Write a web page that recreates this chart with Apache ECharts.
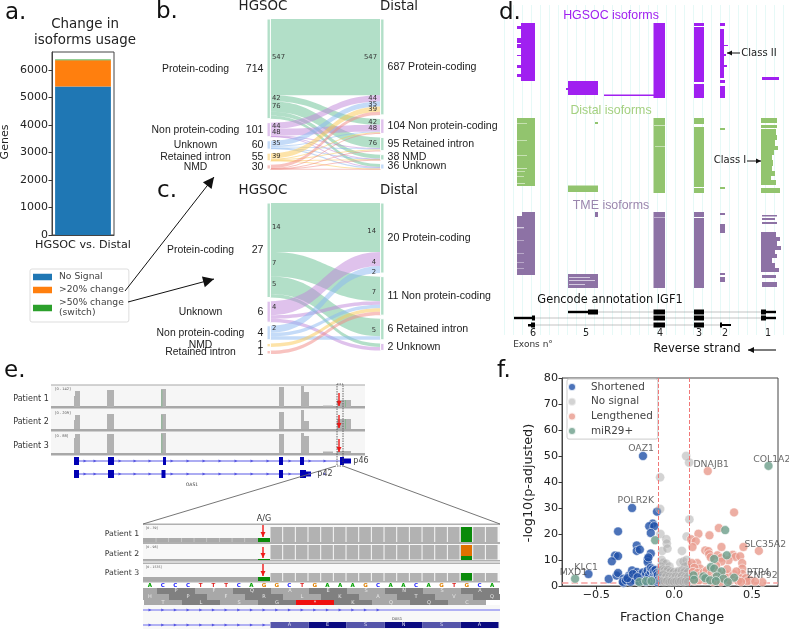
<!DOCTYPE html>
<html><head><meta charset="utf-8">
<style>html,body{margin:0;padding:0;background:#fff}#c{width:789px;height:629px}</style>
<script src="https://cdn.jsdelivr.net/npm/echarts@6/dist/echarts.min.js"></script>
</head><body><div id="c"></div>
<script>
// ---------- panel a values
const usageCategories = ['HGSOC vs. Distal'];
const noSignal = [5400];
const change20 = [950];
const change50 = [30];

// ---------- panel b sankey values
const leftB = ['Protein-coding','Non protein-coding','Unknown','Retained intron','NMD'];
const leftBTotals = [714,101,60,55,30];
const rightB = ['Protein-coding','Non protein-coding','Retained intron','NMD','Unknown'];
const rightBTotals = [687,104,95,38,36];
const flowsB = [
 [547,42,76,28,21],
 [44,48,3,3,3],
 [35,6,8,2,9],
 [39,5,6,3,2],
 [22,3,2,2,1]
];
// ---------- panel c sankey values
const leftC = ['Protein-coding','Unknown','Non protein-coding','NMD','Retained intron'];
const leftCTotals = [27,6,4,1,1];
const rightC = ['Protein-coding','Non protein-coding','Retained intron','Unknown'];
const rightCTotals = [20,11,6,2];
const flowsC = [
 [14,7,5,1],
 [4,1,0,1],
 [2,1,1,0],
 [0,1,0,0],
 [0,1,0,0]
];
const ribbonTextB = [['547',272,57],['42',272,98],['76',272,106],['44',272,126],['48',272,132],['35',272,143],['39',272,156]];
const ribbonTextBR = [['547',377,57],['44',377,98],['35',377,104],['39',377,109],['42',377,122],['48',377,128],['76',377,143]];
const ribbonTextC = [['14',272,227],['7',272,263],['5',272,284],['4',272,307],['2',272,328]];
const ribbonTextCR = [['14',376,231],['4',376,262],['2',376,272],['7',376,292],['5',376,330]];

// ---------- panel d isoform blocks: [x0,x1,y0,y1]
const hgsocBlocks = [
 [521,535,23,81],[517,521,26,29],[517,521,38,43],[517,521,44,48],[517,521,55,56],[517,521,65,68],[517,521,74,77],
 [568,598,81,95],[566,568,88,90],[604,654,94.6,96],[653.5,665,23,98],
 [694,704,23,26],[694,704,27,82],[694,704,84,98],
 [720,725,23,26],[720,724,29,78],[724,728,45,46],[724,726,54,56],[724,727,65,67],[720,725,80,83],[720,725,86,98],[762,779,77,80]
];
const distalBlocks = [
 [517,535,118,186],[595,598,122,124],[568,598,185.5,192],[653.5,665,118,193],
 [694,704,118,124],[694,704,127,187],[694,704,188,193],[720,725,128,130],[720,725,187,189],
 [761,777,118,123],[761,777,125,128],[761,776,129,135],[761,777,135,140],[761,775,140,146],[761,778,146,150],[761,774,150,155],
 [761,772,155,160],[761,773,160,166],[761,772,166,171],[761,775,171,176],[761,771,176,180],[761,776,180,185],[761,780,188,193]
];
const distalNotches = [[517,527,155,155.6],[517,527,168,168.7],[517,525,171,171.6],[517,524,176,176.6],[517,525,183,183.7],[517,527,140,140.6],[517,527,123,123.6],[654,665,125,125.7],[655,665,146,146.6]];
const tmeBlocks = [
 [522,535,212,216],[517,535,216,275],[595,598,212,217],[568,598,274,288],[653.5,665,212,288],
 [694,704,212,217],[694,704,218,288],
 [720,725,213,215],[720,725,224,233],[720,725,273,275],[720,725,277,282],
 [762,777,215,216.5],[762,775,218,220],[762,777,222,224],
 [761,776,232,237],[761,780,237,241],[761,777,241,246],[761,781,246,250],[761,775,250,254],[761,777,254,258],[761,772,258,263],[761,775,263,268],[761,779,268,272],
 [762,776,275,278],[762,777,282,287]
];
const tmeNotches = [[517,524,227,228.3],[517,524,240,240.6],[517,524,253,253.6],[517,524,262,262.6],[517,524,268,268.6],[569,590,277,278],[569,595,280,281],[569,585,284,285],[654,665,217,217.7]];
const geneThickLines = [[568,588,310.8,313.2],[514,532,316.8,319.2],[528,535,324,326.5],[722,731,324,326],[766,776,310.8,313.2],[766,776,316.8,319.2]];
const geneBoxes = [
 [588,598,309.5,314.5],[653.5,665,309.5,314.5],[694,704,309.5,314.5],[761,766,309.5,314.5],
 [532,535,315.5,320.5],[653.5,665,315.5,320.5],[694,704,315.5,320.5],[761,766,315.5,320.5],
 [531,535,322.5,327.5],[653.5,665,322.5,327.5],[694,704,322.5,327.5],[720,722,322.5,327.5]
];
const geneLines = [[598,761,311.8,312.3],[535,761,317.8,318.3],[535,720,324.8,325.3]];

// ---------- panel e, top tracks
const trackBg = [[51,365,385,407],[51,365,408,430],[51,365,431,453]];
const trackSep = [[51,365,384.5,385.5],[51,365,406,408.5],[51,365,429,431.5],[51,365,453,455.5]];
const coverage = [
 [74,75,396,407],[75,80,391,407],[107,114,390,407],[161,166,389,407],[279,284,387,407],[301,304,386,407],[304,309,392,407],[323,333,405.5,407],[337,351,400,407],
 [74,75,420,429],[75,80,415,429],[107,114,414,429],[161,166,414,429],[279,284,412,429],[301,304,410,429],[304,309,421,429],[337,351,419,429],
 [74,75,438,453],[75,80,434,453],[107,114,434,453],[161,166,433,453],[279,284,434,453],[301,304,433,453],[304,309,436,453],[323,333,451.5,453],[337,351,451,453]
];
const coverageGreen = [[161.5,162.3,390,407],[161.5,162.3,415,429],[161.5,162.3,434,453],[345,345.8,400,407],[345,345.8,419,429]];
const redArrowsTop = [[339,393,339,406],[339,415,339,428],[339,439,339,452]];
const geneBlue = [[74,79,457,465],[108,114,457,465],[163,166,457,465],[279,283,457,465],[300,304,457,465],[340,344,457,465],[344,351,458.5,463.5],
 [74,79,470,478],[108,114,470,478],[161.5,165.5,470,478],[279,283,470,478],[300,306,470,478],[306,311,471.5,476.5]];
const geneBlueLines = [[74,344,460.6,461.4],[74,306,473.6,474.4]];
const chevronX = [85,95,120,135,150,172,188,204,220,236,252,268,290,310,325];
const chevronY = [461,474];

// ---------- panel e, zoomed region
const zoomBg = [[143,500,525,542],[143,500,544,560],[143,500,564,581],[143,500,605,629]];
const zoomSep = [[143,500,523.5,525],[143,500,542,544],[143,500,560,561.5],[143,500,562.5,564],[143,500,581,582.5]];
const lowCells = [[143,258,538,542],[143,258,577,581],[143,258,559,560]];
const bases = ['A','C','C','C','T','T','T','C','A','G','G','C','T','G','A','A','A','G','C','A','A','C','A','G','T','G','C','A'];
const codonsTop = ['','P','F','Q','A','E','S','N','S','A'];
const codonsMid = ['H','P','F','R','L','K','A','T','V','Q'];
const codonsLow = ['T','L','S','G','*','K','Q','Q','C'];
const exonAminoAcids = ['A','E','S','N','S','A'];
const baseColors = {A:'#00a000',C:'#2020ff',G:'#e08000',T:'#e02020'};

// ---------- panel f values: [fraction change, -log10 p]
const shortened = [[-0.2,50],[-0.27,30],[-0.11,28.6],[-0.137,24],[-0.16,23],[-0.128,23],[-0.36,21],[-0.15,20.4],[-0.24,15.6],[-0.24,13.5],[-0.22,14],[-0.15,12.5],
 [-0.38,11.7],[-0.36,11.5],[-0.4,9.5],[-0.17,10.3],[-0.17,9.2],[-0.165,11],[-0.55,4.6],[-0.42,2.7],[-0.37,4],[-0.36,5],[-0.325,2.8],[-0.325,1.2],
 [-0.29,4],[-0.27,6],[-0.26,3.2],[-0.25,2.2],[-0.24,5.4],[-0.23,1.8],[-0.22,4.4],[-0.21,3],[-0.2,2],[-0.2,5.2],[-0.19,3.6],[-0.18,1.6],[-0.18,4.8],[-0.17,3],[-0.17,6],
 [-0.16,2.2],[-0.16,4.2],[-0.15,5.6],[-0.15,7],[-0.14,3],[-0.14,6.4],[-0.14,1.8],[-0.13,4.6],[-0.13,5.8],[-0.12,2.4],[-0.12,3.8],[-0.12,6.2],[-0.11,1.6],[-0.11,3.2],[-0.11,5],
 [-0.105,4.2],[-0.105,2.2],[-0.33,1.6],[-0.31,2.2],[-0.28,1.6],[-0.3,3],[-0.265,4.6],[-0.235,3.4]];
const noSignalPts = [[0.077,50],[0.096,47.5],[-0.09,41.8],[-0.09,29.6],[0.098,25.6],[-0.088,20],[0.08,19],[-0.05,18],[-0.047,16.3],[-0.077,13.5],[-0.043,14.4],[0.05,13.5],
 [-0.08,10],[-0.07,9],[-0.05,8.6],[-0.03,7.5],[0.04,9],[0.06,9.4],[0.08,10],[0.09,8],[0.07,7.5],[-0.085,7.5],[-0.09,6],[-0.075,6.4],[-0.06,6],[-0.05,5.4],[-0.04,6.2],[-0.03,5],[-0.02,5.6],
 [-0.01,4.8],[0,5.4],[0.01,4.6],[0.02,5.2],[0.03,5.8],[0.04,4.6],[0.05,6],[0.06,5],[0.07,5.6],[0.08,4.8],[0.09,5.4],[-0.09,4],[-0.08,3.2],[-0.07,4.4],[-0.06,3],[-0.05,3.8],[-0.04,2.6],
 [-0.03,3.6],[-0.02,2.4],[-0.01,3.4],[0,2.6],[0.01,3.6],[0.02,2.4],[0.03,3.4],[0.04,2.8],[0.05,3.8],[0.06,2.6],[0.07,3.4],[0.08,2.8],[0.09,3.6],[-0.09,2],[-0.075,1.7],[-0.06,1.6],[-0.045,1.9],
 [-0.03,1.5],[-0.015,1.8],[0,1.5],[0.015,1.8],[0.03,1.6],[0.045,1.9],[0.06,1.5],[0.075,1.8],[0.09,1.6]];
const lengthened = [[0.216,44.2],[0.385,28.3],[0.287,22.3],[0.156,20.1],[0.227,19.5],[0.109,18],[0.139,17.2],[0.118,15],[0.304,15],[0.544,13.5],[0.445,15],[0.2,13.7],[0.22,13.4],[0.225,12.2],
 [0.278,11.8],[0.235,11],[0.377,12],[0.394,11.2],[0.424,11.4],[0.304,10.9],[0.349,9.9],[0.304,9.4],[0.148,8.8],[0.113,8.8],[0.437,8.8],[0.437,6.7],[0.437,4.7],[0.424,3],[0.488,2.2],[0.567,1.5],
 [0.46,3],[0.167,6.7],[0.13,7],[0.12,5.4],[0.15,5],[0.17,4],[0.19,5.2],[0.21,6],[0.22,3.2],[0.24,4.8],[0.26,3.2],[0.28,5.4],[0.29,2.4],[0.31,3.6],[0.33,4.6],[0.35,3.4],[0.36,2],[0.38,4.6],
 [0.4,5.6],[0.41,2],[0.47,1.8],[0.43,1.6],[0.52,1.7],[0.2,2.2],[0.25,1.6],[0.3,1.6],[0.13,2],[0.16,2.2],[0.34,6.5],[0.27,7.8]];
const mir29 = [[0.606,46.2],[0.328,21.5],[-0.122,17.6],[0.338,11.8],[0.257,10.4],[0.236,7.3],[0.257,6.7],[0.304,5.6],[0.274,3.7],[0.317,2.8],[0.385,3.2],[0.345,1.5],[-0.636,2.8],
 [0.124,4.1],[0.128,2.4],[0.188,3.7],[0.2,3],[0.231,2.2],[0.268,1.9],[-0.223,1.5],[-0.18,1.9],[-0.146,1.9]];
const geneLabels = [['OAZ1',-0.212,52.7],['POLR2K',-0.246,32.7],['DNAJB1',0.238,46.8],['COL1A2',0.627,48.7],['SLC35A2',0.585,15.9],['KLC1',-0.565,7],['MXD1',-0.647,5.2],['PTP4',0.54,5],['ZNF92',0.567,4.1]];

// ---------- helpers
const SANS='"DejaVu Sans"', ARIAL='"Liberation Sans"';
const flowStrong = ['#66bf91','#bf85d9','#89b7f1','#fbc751','#f18781'];
const flowPale = ['#b2dfc8','#dfc2ec','#c4dbf8','#fde3a8','#f8c3c0'];

function sankey(top,height,gap,lNames,lTotals,rNames,rTotals,flows,rightPale,center){
  const nodes=[];
  lNames.forEach((n,i)=>nodes.push({name:'L'+n,depth:0,itemStyle:{color:flowPale[i]},
    label:{position:'left',distance:3,formatter:`{n|${n}}{v|${lTotals[i]}}`,
      rich:{n:{width:center,align:'center',fontSize:10.4,fontFamily:ARIAL,color:'#222'},v:{width:rNames.length===5?22:16,align:'right',fontSize:10.6,fontFamily:ARIAL,color:'#222'}}}}));
  rNames.forEach((n,i)=>nodes.push({name:'R'+n,depth:1,itemStyle:{color:rightPale[i]},
    label:{position:'right',distance:3,formatter:`${rTotals[i]} ${n}`,fontSize:10.6,fontFamily:ARIAL,color:'#222'}}));
  const links=[];
  flows.forEach((row,i)=>row.forEach((v,j)=>{ if(v>0) links.push({source:'L'+lNames[i],target:'R'+rNames[j],value:v,
     lineStyle:{color:flowStrong[i],opacity:0.5}}); }));
  return {type:'sankey',left:267,width:117,top,height,nodeWidth:3.4,nodeGap:gap,layoutIterations:0,draggable:false,silent:true,
    nodeAlign:'justify',data:nodes,links,label:{show:true},itemStyle:{borderColor:'#fff',borderWidth:1},emphasis:{disabled:true},animation:false,z:2};
}

function rects(list,color,z){
  return {type:'custom',xAxisIndex:3,yAxisIndex:3,coordinateSystem:'cartesian2d',silent:true,animation:false,clip:false,z:z||3,
    data:list,
    renderItem(p,api){
      const a=api.coord([api.value(0),api.value(2)]),b=api.coord([api.value(1),api.value(3)]);
      return {type:'rect',shape:{x:a[0],y:a[1],width:b[0]-a[0],height:b[1]-a[1]},style:{fill:color}};
    }};
}
function arrows(list,color,w,head,z,noHead){
  return {type:'custom',xAxisIndex:3,yAxisIndex:3,coordinateSystem:'cartesian2d',silent:true,animation:false,clip:false,z:z||6,
    data:list,
    renderItem(p,api){
      const a=api.coord([api.value(0),api.value(1)]),b=api.coord([api.value(2),api.value(3)]);
      const t=Math.atan2(b[1]-a[1],b[0]-a[0]);
      const children=[{type:'line',shape:{x1:a[0],y1:a[1],x2:b[0],y2:b[1]},style:{stroke:color,lineWidth:w}}];
      if(!noHead){
        const h=head,hw=head*0.5;
        const bx=b[0]-h*Math.cos(t),by=b[1]-h*Math.sin(t);
        children.push({type:'polygon',shape:{points:[[b[0],b[1]],[bx-hw*Math.sin(t),by+hw*Math.cos(t)],[bx+hw*Math.sin(t),by-hw*Math.cos(t)]]},style:{fill:color}});
      }
      return {type:'group',children};
    }};
}
function txt(t,x,y,size,color,align,font,extra){
  return Object.assign({type:'text',x,y,z:20,silent:true,style:{text:t,fontSize:size,fill:color||'#222',align:align||'center',verticalAlign:'middle',fontFamily:font||SANS}},extra||{});
}

// zoomed panel pieces derived from the named lists
const cellW=12.67, zoomStart=270.5;
const zoomCells=[]; for(let i=0;i<18;i++){const x0=zoomStart+i*cellW,x1=Math.min(x0+cellW-1,500);
  zoomCells.push([x0,x1,527,542],[x0,x1,545,559.5],[x0,x1,573,581]);}
const lowTicks=[]; for(let i=1;i<9;i++) lowTicks.push([143+i*12.67,143+i*12.67+0.7,538,542]);
const codonRects={dark:[],mid:[],red:[]}; const gfx=[];
function codonRow(list,firstCenter,y0,y1,startDark){
  list.forEach((c,i)=>{const cx=firstCenter+i*38,x0=Math.max(143,cx-19),x1=Math.min(500,cx+19);
    const key=c==='*'?'red':((i%2===0)===startDark?'dark':'mid');
    codonRects[key].push([x0,x1,y0,y1]);
    if(c) gfx.push(txt(c,cx,(y0+y1)/2,5,'#e8e8e8'));});
}
codonRow(codonsTop,138,588,594,false);
codonRow(codonsMid,150,594,600,false);
codonRow(codonsLow,163,600,605,false);
bases.forEach((b,i)=>gfx.push(txt(b,150+i*12.67,586,5.5,baseColors[b],'center',SANS,{style:{text:b,fontSize:5.5,fontWeight:'bold',fill:baseColors[b],align:'center',verticalAlign:'middle',fontFamily:SANS}})));
const aaDark=[],aaMid=[];
exonAminoAcids.forEach((a,i)=>{const x0=270.5+i*38,x1=Math.min(500,x0+38);(i%2?aaDark:aaMid).push([x0,x1,622,628]);gfx.push(txt(a,(x0+x1)/2,625,5,'#dde'));});

const chevronPts=[];chevronY.forEach(y=>chevronX.forEach(x=>chevronPts.push([x,y])));
const chevronPtsB=[];[610,625].forEach(y=>{for(let i=0;i<19;i++){if(y===625&&150+i*12.67>265)break;chevronPtsB.push([150+i*12.67,y]);}});

const xTickVals=[-0.5,0,0.5];
const thresholdStyle={color:'#f07878',type:'dashed',width:1,opacity:1};
const option={
  animation:false,backgroundColor:'#fff',
  grid:[
    {left:52,top:52,width:62,height:183,show:true,borderColor:'#444',borderWidth:1,backgroundColor:'transparent'},
    {left:504,top:5,width:279,height:330,show:false},
    {left:562,top:378,width:216,height:208,show:true,borderColor:'#444',borderWidth:1,backgroundColor:'transparent'},
    {left:0,top:0,width:789,height:629,show:false}
  ],
  xAxis:[
    {gridIndex:0,type:'category',data:usageCategories,axisTick:{alignWithLabel:true,length:3.5,lineStyle:{color:'#333'}},axisLine:{lineStyle:{color:'#444'}},
      axisLabel:{fontFamily:SANS,fontSize:11.2,color:'#222',margin:5,interval:0}},
    {gridIndex:1,type:'value',min:504,max:783,interval:9,axisLabel:{show:false},axisTick:{show:false},axisLine:{show:false},splitLine:{show:true,lineStyle:{color:'#e6f9f7',width:1}}},
    {gridIndex:2,type:'value',min:-0.72,max:0.667,splitLine:{show:false},axisLine:{onZero:false,lineStyle:{color:'#444'}},
      axisTick:{length:3.5,customValues:xTickVals,lineStyle:{color:'#333'}},
      axisLabel:{customValues:xTickVals,fontFamily:SANS,fontSize:11.2,color:'#222',margin:4,formatter:v=>v<0?'\u2212'+Math.abs(v).toFixed(1):v.toFixed(1)}},
    {gridIndex:3,type:'value',min:0,max:789,show:false}
  ],
  yAxis:[
    {gridIndex:0,type:'value',min:0,max:6650,interval:1000,splitLine:{show:false},axisLine:{show:true,onZero:false,lineStyle:{color:'#444'}},axisTick:{show:true,length:3.5,lineStyle:{color:'#333'}},
      axisLabel:{fontFamily:SANS,fontSize:11,color:'#222',margin:4,showMaxLabel:false,formatter:v=>String(v)}},
    {gridIndex:1,type:'value',show:false,min:0,max:1},
    {gridIndex:2,type:'value',min:0,max:80,interval:10,splitLine:{show:false},axisLine:{show:true,onZero:false,lineStyle:{color:'#444'}},axisTick:{show:true,length:3.5,lineStyle:{color:'#333'}},
      axisLabel:{fontFamily:SANS,fontSize:11.2,color:'#222',margin:4}},
    {gridIndex:3,type:'value',min:0,max:629,inverse:true,show:false}
  ],
  legend:[
    {seriesIndex:[0,1,2],data:['No Signal','>20% change','>50% change\n(switch)'],left:30,top:269,orient:'vertical',itemWidth:19,itemHeight:6.5,itemGap:3,padding:[3,5,4,3],
      icon:'rect',backgroundColor:'#fff',borderColor:'#ddd',borderWidth:1,borderRadius:2,textStyle:{fontFamily:SANS,fontSize:9.2,color:'#444',lineHeight:10,padding:[0,0,0,2]}},
    {data:['Shortened','No signal','Lengthened','miR29+'],left:567,top:379,orient:'vertical',itemWidth:28,itemHeight:8,itemGap:4.7,padding:[3,5,3,0],
      icon:'circle',backgroundColor:'rgba(255,255,255,0.85)',borderColor:'#ccc',borderWidth:1,borderRadius:2,textStyle:{fontFamily:SANS,fontSize:10.4,color:'#444',lineHeight:10}}
  ],
  series:[
    {name:'No Signal',type:'bar',stack:'u',xAxisIndex:0,yAxisIndex:0,barWidth:'90%',data:noSignal,itemStyle:{color:'#1f77b4'}},
    {name:'>20% change',type:'bar',stack:'u',xAxisIndex:0,yAxisIndex:0,barWidth:'90%',data:change20,itemStyle:{color:'#ff7f0e'}},
    {name:'>50% change\n(switch)',type:'bar',stack:'u',xAxisIndex:0,yAxisIndex:0,barWidth:'90%',data:change50,itemStyle:{color:'#2ca02c'}},

    sankey(19,150,4,leftB,leftBTotals,rightB,rightBTotals,flowsB,[flowPale[0],flowPale[1],flowPale[0],flowPale[0],flowPale[2]],92),
    sankey(203,151,3.6,leftC,leftCTotals,rightC,rightCTotals,flowsC,[flowPale[0],flowPale[0],flowPale[0],flowPale[1]],94),

    // panel d grid lines carrier
    {type:'scatter',xAxisIndex:1,yAxisIndex:1,data:[],silent:true},

    rects(hgsocBlocks,'#a020f0'),rects(distalBlocks,'#92c46e'),rects(distalNotches,'#e9f5e0',4),rects(tmeBlocks,'#8d72a5'),rects(tmeNotches,'#d5cbe0',4),
    rects(geneLines,'#888'),rects(geneThickLines,'#000',4),rects(geneBoxes,'#000',4),

    rects(trackBg,'#f6f6f6'),rects(trackSep,'#a8a8a8',4),rects(coverage,'#b2b2b2',4),rects(coverageGreen,'#7fb98a',5),
    rects(geneBlueLines,'#5a5ae6'),rects(geneBlue,'#0000b4',4),
    rects(zoomBg,'#f8f8f8'),rects(zoomSep,'#b0b0b0',4),rects(lowCells,'#aaaaaa',4),rects(lowTicks,'#d0d0d0',5),rects(zoomCells,'#b2b2b2',4),
    rects([[258,270,538,542],[258,270,577,581],[258,270,559,560],[461,472,527,542],[461,472,556,560],[461,472,573,580.5]],'#0a8a0a',5),
    rects([[461,472,545,556]],'#e07000',5),
    rects(codonRects.dark,'#808080'),rects(codonRects.mid,'#a8a8a8'),rects(codonRects.red,'#f01010',4),
    rects([[143,500,609.6,610.4],[143,270,624.6,625.4]],'#6a6aee',4),
    rects(aaDark,'#0a0a80',4),rects(aaMid,'#5555aa',4),
    {type:'scatter',xAxisIndex:3,yAxisIndex:3,data:chevronPts.concat(chevronPtsB),symbol:'triangle',symbolRotate:-90,symbolSize:3,itemStyle:{color:'#4040dd'},silent:true,z:5},

    {name:'Shortened',type:'scatter',xAxisIndex:2,yAxisIndex:2,data:shortened,symbolSize:9,itemStyle:{color:'#1f50a8',borderColor:'#fff',borderWidth:0.7},z:7,silent:true,
      markLine:{silent:true,symbol:'none',animation:false,z:10,label:{show:false},lineStyle:thresholdStyle,
        data:[{xAxis:-0.1,lineStyle:thresholdStyle},{xAxis:0.1,lineStyle:thresholdStyle}]}},
    {name:'No signal',type:'scatter',xAxisIndex:2,yAxisIndex:2,data:noSignalPts,symbolSize:9,itemStyle:{color:'#a8a8a8',borderColor:'#ffffff',borderWidth:0.5,opacity:0.5},z:7,silent:true,
      markLine:{silent:true,symbol:'none',animation:false,label:{show:false},lineStyle:{color:'#f8a0a0',type:'dashed',width:1.6},data:[{yAxis:1.3}]}},
    {name:'Lengthened',type:'scatter',xAxisIndex:2,yAxisIndex:2,data:lengthened,symbolSize:9,itemStyle:{color:'#e99a8c',borderColor:'#fff',borderWidth:0.7},z:7,silent:true},
    {name:'miR29+',type:'scatter',xAxisIndex:2,yAxisIndex:2,data:mir29,symbolSize:9,itemStyle:{color:'#6b9e8a',borderColor:'#fff',borderWidth:0.7},z:8,silent:true},
    {type:'scatter',xAxisIndex:2,yAxisIndex:2,symbolSize:0,silent:true,z:9,clip:false,
      data:geneLabels.map(g=>({name:g[0],value:[g[1],g[2]]})),
      label:{show:true,position:'inside',formatter:'{b}',fontFamily:SANS,fontSize:9.3,color:'#444'}},

    arrows([[125,291,214,177],[128,302,214,279]],'#111',1,11,9),
    arrows([[740,53,727,53]],'#111',1,5,9),arrows([[747,161,761,161]],'#111',1,5,9),arrows([[776,350,748,350]],'#111',1.1,6,9),
    arrows(redArrowsTop,'#f01818',1.4,5,9),
    arrows([[263,525,263,537],[263,547,263,558],[263,564,263,576]],'#f01818',1.4,5,9),
    arrows([[336,466,143,524],[343,466,500,524]],'#666',0.9,0,4,true),
    {type:'custom',xAxisIndex:3,yAxisIndex:3,coordinateSystem:'cartesian2d',silent:true,clip:false,z:9,data:[[337,343,384,466]],
      renderItem(p,api){const a=api.coord([api.value(0),api.value(2)]),b=api.coord([api.value(1),api.value(3)]);
        return {type:'rect',shape:{x:a[0],y:a[1],width:b[0]-a[0],height:b[1]-a[1]},style:{fill:'none',stroke:'#444',lineWidth:0.8,lineDash:[1.5,1]}};}}
  ],
  graphic:[
    txt('a.',5,13,23,'#111','left'),txt('b.',156,12,23,'#111','left'),txt('c.',157,191,23,'#111','left'),txt('d.',499,13,23,'#111','left'),txt('e.',4,371,23,'#111','left'),txt('f.',497,371,23,'#111','left'),
    txt('Change in',85,25,13.4,'#222'),txt('isoforms usage',85,41,13.4,'#222'),
    txt('Genes',5,142,11,'#222','center',SANS,{rotation:Math.PI/2}),
    txt('HGSOC',263,7,13.4),txt('Distal',399,7,13.4),txt('HGSOC',263,191,13.4),txt('Distal',399,191,13.4),
    ...ribbonTextB.map(r=>txt(r[0],r[1],r[2],6.8,'#333','left')),...ribbonTextBR.map(r=>txt(r[0],r[1],r[2],6.8,'#333','right')),
    ...ribbonTextC.map(r=>txt(r[0],r[1],r[2],6.8,'#333','left')),...ribbonTextCR.map(r=>txt(r[0],r[1],r[2],6.8,'#333','right')),
    txt('HGSOC isoforms',611,16,12.4,'#a020f0','center',ARIAL),txt('Distal isoforms',611,111,12.4,'#a4d080','center',ARIAL),txt('TME isoforms',611,206,12.4,'#9a86ad','center',ARIAL),
    txt('Class II',759,53,10,'#222'),txt('Class I',730,160,10,'#222'),
    txt('Gencode annotation IGF1',610,300,11.4,'#111'),
    txt('6',533,333,9.6),txt('5',586,333,9.6),txt('4',660,333,9.6),txt('3',699,333,9.6),txt('2',725,333,9.6),txt('1',768,333,9.6),
    txt('Exons n°',533,345,9,'#333'),txt('Reverse strand',697,349,11.6,'#111'),
    txt('Fraction Change',672,618,12.8,'#222'),
    txt('-log10(p-adjusted)',529,483,12.8,'#222','center',SANS,{rotation:Math.PI/2}),
    txt('Patient 1',31,399,8,'#333'),txt('Patient 2',31,422,8,'#333'),txt('Patient 3',31,446,8,'#333'),
    txt('[0 - 142]',55,389,3.6,'#555','left'),txt('[0 - 209]',55,413,3.6,'#555','left'),txt('[0 - 88]',55,436,3.6,'#555','left'),
    txt('p46',361,461,8,'#444'),txt('p42',325,474,8,'#444'),txt('OAS1',192,485,4.6,'#444'),
    txt('A/G',264,519,8,'#333'),
    txt('Patient 1',122,534,7.8,'#333'),txt('Patient 2',122,554,7.8,'#333'),txt('Patient 3',122,573,7.8,'#333'),
    txt('[0 - 39]',146,528,3.2,'#555','left'),txt('[0 - 98]',146,547,3.2,'#555','left'),txt('[0 - 1535]',146,567,3.2,'#555','left'),
    txt('OAS1',397,619,3.8,'#444'),
    ...gfx
  ]
};
const chart=echarts.init(document.getElementById('c'));
chart.setOption(option);
</script></body></html>
